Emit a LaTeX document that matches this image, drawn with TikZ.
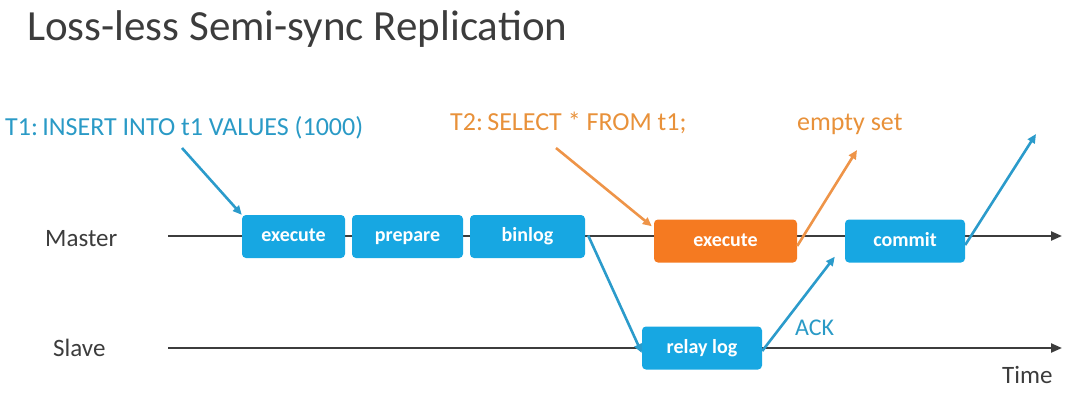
\documentclass[tikz,border=0pt]{standalone}
\usepackage{fontspec}
\setmainfont{Carlito}
\usetikzlibrary{arrows.meta}
\definecolor{boxblue}{HTML}{17A7E2}
\definecolor{boxorange}{HTML}{F57A21}
\definecolor{arrblue}{HTML}{2B9BCB}
\definecolor{arrorange}{HTML}{EE9448}
\definecolor{txtblue}{HTML}{2A9AC6}
\definecolor{txtorange}{HTML}{E8913A}
\definecolor{dark}{HTML}{3C3C3C}
\tikzset{
  stage/.style={draw=none, fill=boxblue, rounded corners=4pt, text=white, font=\fontsize{20}{24}\selectfont\bfseries, minimum height=43pt, inner sep=0pt, text height=14pt, text depth=4pt},
  orstage/.style={stage, fill=boxorange},
  tline/.style={draw=dark, line width=2.2pt, -{Triangle[length=11pt,width=9pt]}},
  barr/.style={draw=arrblue, line width=2.6pt, -{Triangle[length=9pt,width=8pt]}},
  oarr/.style={draw=arrorange, line width=2.6pt, -{Triangle[length=9pt,width=8pt]}},
  lab/.style={font=\fontsize{25}{30}\selectfont, text=dark, inner sep=0pt},
  tlab/.style={font=\fontsize{26}{31}\selectfont, inner sep=0pt, anchor=base west},
}
\begin{document}
\begin{tikzpicture}[x=1pt,y=-1pt]
\useasboundingbox (0,0) rectangle (1080,413);
\node[font=\fontsize{43}{48}\selectfont, text=dark, anchor=base west, inner sep=0pt] (title) at (27,40) {Loss-less Semi-sync Replication};
% time lines
\coordinate (ms) at (168,236);
\coordinate (me) at (1062,236);
\coordinate (ss) at (168,348);
\coordinate (se) at (1062,348);
\draw[tline] (ms) -- (me);
\draw[tline] (ss) -- (se);
\node[lab, anchor=base west] (master) at (45,246) {Master};
\node[lab, anchor=base west] (slave) at (53,356) {Slave};
\node[lab, anchor=base west] (time) at (1002,383) {Time};
% boxes
\node[stage, minimum width=103pt] (ex1) at (293.5,236.5) {execute};
\node[stage, minimum width=111pt] (prep) at (407.5,236.5) {prepare};
\node[stage, minimum width=115pt] (bin) at (527.5,236.5) {binlog};
\node[orstage, minimum width=143pt] (ex2) at (725.5,241) {execute};
\node[stage, minimum width=120pt] (commit) at (905,241) {commit};
\node[stage, minimum width=120pt] (relay) at (702,348) {relay log};
% labels
\node[tlab, text=txtblue] (t1) at (5,135) {T1:\,INSERT INTO t1 VALUES (1000)};
\node[tlab, text=txtorange] (t2) at (450,130) {T2:\,SELECT * FROM t1;};
\node[tlab, text=txtorange] (empty) at (797,130) {empty set};
\node[font=\fontsize{24}{28}\selectfont, text=txtblue, anchor=base west, inner sep=0pt] (ack) at (795,335) {ACK};
% arrows
\coordinate (t1s) at (182,148);
\draw[barr] (t1s) -- (ex1.north west);
\coordinate (t2s) at (556,148);
\draw[oarr] (t2s) -- ([xshift=-2pt,yshift=-7pt]ex2.north west);
\coordinate (emptye) at (857,150);
\draw[oarr] ([yshift=-5pt]ex2.east) -- (emptye);
\draw[barr] ([xshift=3pt,yshift=1pt]bin.east) -- ([yshift=-5pt]relay.west);
\draw[barr] ([yshift=-3pt]relay.east) -- ([xshift=-10pt,yshift=6pt]commit.south west);
\coordinate (cend) at (1036,134);
\draw[barr] ([yshift=-4pt]commit.east) -- (cend);
\end{tikzpicture}
\end{document}
